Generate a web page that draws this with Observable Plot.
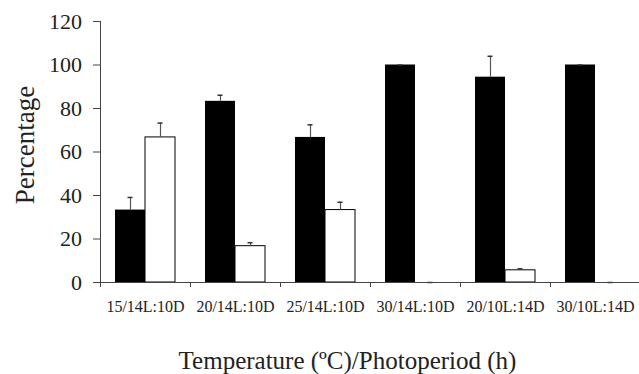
<!DOCTYPE html>
<html>
<head>
<meta charset="utf-8">
<script src="https://cdn.jsdelivr.net/npm/d3@7"></script>
<script src="https://cdn.jsdelivr.net/npm/@observablehq/plot@0.6"></script>
<style>
  html, body { margin: 0; padding: 0; background: #fff; }
</style>
</head>
<body>
<div id="chart"></div>
<script>
const categories = ["15/14L:10D", "20/14L:10D", "25/14L:10D", "30/14L:10D", "20/10L:14D", "30/10L:14D"];
const blackValues = [33.3, 83.3, 66.7, 100, 94.4, 100];
const blackErrors = [5.8, 2.8, 5.8, 0, 9.6, 0];
const whiteValues = [66.7, 16.7, 33.3, 0, 5.6, 0];
const whiteErrors = [6.6, 1.6, 3.6, 0, 0.7, 0];
const yTicks = [0, 20, 40, 60, 80, 100, 120];
const yLabel = "Percentage";
const xLabel = "Temperature (ºC)/Photoperiod (h)";

const black = categories.map((c, i) => ({cat: c, v: blackValues[i], e: blackErrors[i]}));
const white = categories.map((c, i) => ({cat: c, v: whiteValues[i], e: whiteErrors[i]}));

const W = 639, H = 374, ML = 100, MR = -1, MT = 21, MB = 92;
const bw = (W - MR - ML) / categories.length;
const half = bw / 2;
const plotH = H - MT - MB;
const font = "'Liberation Serif', 'Times New Roman', serif";
const ink = "#222";

const chart = Plot.plot({
  width: W,
  height: H,
  marginLeft: ML,
  marginRight: MR,
  marginTop: MT,
  marginBottom: MB,
  style: {fontFamily: font, background: "#fff", color: ink, overflow: "visible"},
  x: {domain: categories, padding: 0, axis: null},
  y: {domain: [0, 120], axis: null},
  marks: [
    // bars
    Plot.barY(black, {x: "cat", y: "v", fill: "#000", insetLeft: 15, insetRight: bw - 45}),
    Plot.barY(white, {x: "cat", y: "v", fill: "#fff", stroke: "#000", strokeWidth: 1, insetLeft: 45, insetRight: bw - 75}),
    // error bars
    Plot.ruleX(black.filter(d => d.e > 0), {x: "cat", y1: "v", y2: d => d.v + d.e, dx: 30 - half, stroke: "#555", strokeWidth: 1.2}),
    Plot.ruleX(white.filter(d => d.e > 0), {x: "cat", y1: "v", y2: d => d.v + d.e, dx: 60 - half, stroke: "#555", strokeWidth: 1.2}),
    Plot.tickY(black, {x: "cat", y: d => d.v + d.e, insetLeft: 27.5, insetRight: bw - 32.5, stroke: "#333", strokeWidth: 1.5}),
    Plot.tickY(white, {x: "cat", y: d => d.v + d.e, insetLeft: 57.5, insetRight: bw - 62.5, stroke: "#333", strokeWidth: 1.5}),
    // axis lines
    Plot.ruleY([0], {stroke: "#444", strokeWidth: 1}),
    Plot.ruleX([categories[0]], {dx: -half, stroke: "#444", strokeWidth: 1}),
    // x boundary ticks
    Plot.ruleX(categories, {x: d => d, dx: -half, insetTop: plotH, insetBottom: -5, stroke: "#444"}),
    Plot.ruleX([categories[categories.length - 1]], {dx: half, insetTop: plotH, insetBottom: -5, stroke: "#444"}),
    // y axis
    Plot.axisY({ticks: yTicks, tickSize: 7, tickPadding: 11.5, fontSize: 22, label: null, stroke: "#444", fill: ink}),
    // x labels
    Plot.axisX({tickSize: 0, tickPadding: 18.5, fontSize: 16, label: null, fill: ink}),
    // titles
    Plot.text([yLabel], {frameAnchor: "left", rotate: -90, dx: -75, dy: -7, fontSize: 27, fill: ink, textAnchor: "middle", lineAnchor: "middle"}),
    Plot.text([xLabel], {frameAnchor: "bottom", dx: -23, dy: 78, fontSize: 25, fill: ink, textAnchor: "middle", lineAnchor: "middle"})
  ]
});
document.getElementById("chart").appendChild(chart);
</script>
</body>
</html>
